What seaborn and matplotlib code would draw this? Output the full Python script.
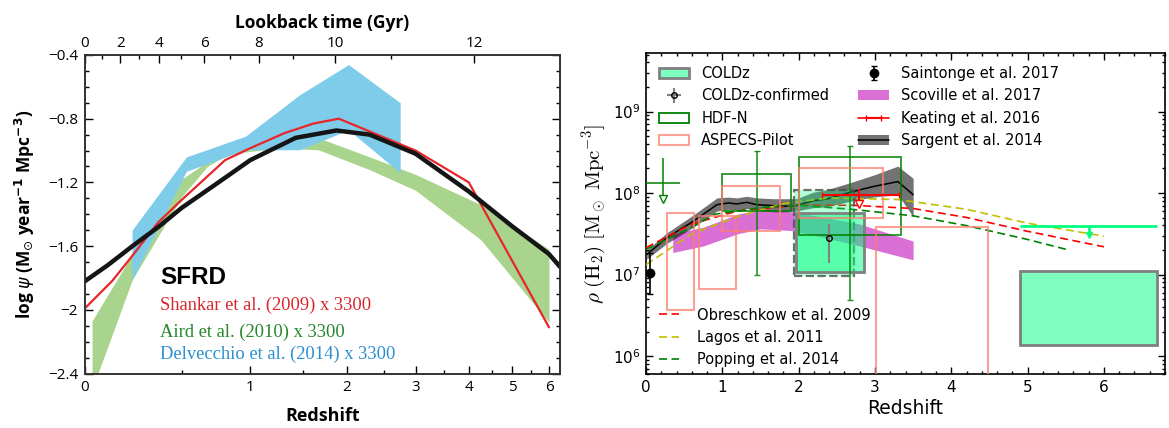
import numpy as np
import matplotlib
matplotlib.use("Agg")
import matplotlib.pyplot as plt
from matplotlib.patches import Rectangle, Patch
from matplotlib.lines import Line2D
from matplotlib.ticker import FixedLocator, FuncFormatter, AutoMinorLocator, LogLocator, NullFormatter
import seaborn as sns

# ---------------- Left panel data (log SFRD) ----------------
md_z = [0.0, 0.1, 0.22, 0.36, 0.5, 0.75, 1.0, 1.42, 1.87, 2.3, 3.0, 4.0, 5.0, 6.0, 6.33]
md_val = [-1.82, -1.72, -1.60, -1.48, -1.36, -1.20, -1.06, -0.92, -0.874, -0.90, -1.02, -1.257, -1.476, -1.65, -1.73]

shankar_z = [0.0, 0.12, 0.22, 0.36, 0.5, 0.8, 1.0, 1.31, 1.61, 1.9, 3.0, 4.0, 6.0]
shankar_val = [-1.99, -1.82, -1.66, -1.45, -1.31, -1.06, -0.985, -0.89, -0.83, -0.80, -1.00, -1.20, -2.11]

aird_z = [0.03, 0.22, 0.5, 0.67, 0.83, 1.27, 1.66, 2.3, 3.0, 4.26, 6.0]
aird_hi = [-2.07, -1.65, -1.18, -1.07, -1.01, -0.975, -0.92, -1.04, -1.15, -1.34, -1.62]
aird_lo = [-2.50, -1.81, -1.29, -1.10, -1.02, -0.985, -0.995, -1.12, -1.25, -1.56, -2.08]

delv_z = [0.218, 0.53, 0.96, 1.46, 2.02, 2.75]
delv_hi = [-1.50, -1.04, -0.91, -0.65, -0.46, -0.70]
delv_lo = [-1.81, -1.13, -0.995, -0.995, -0.87, -1.14]

left_yticks = [-2.4, -2.0, -1.6, -1.2, -0.8, -0.4]
left_xticks = [0, 1, 2, 3, 4, 5, 6]
lookback_major = [0, 2, 4, 6, 8, 10, 12]
lookback_minor = [1, 3, 5, 7, 9, 11]

# ---------------- Right panel data (log10 rho H2) ----------------
sargent_z = [0.01, 0.27, 0.62, 0.93, 1.08, 1.19, 1.32, 1.45, 1.67, 1.84, 1.97, 2.19, 2.37, 2.72, 2.98, 3.30, 3.50]
sargent_log = [7.245, 7.45, 7.653, 7.857, 7.878, 7.866, 7.886, 7.857, 7.845, 7.837, 7.845, 7.906, 7.927, 8.02, 8.08, 8.14, 7.98]
sargent_hi_log = [7.30, 7.51, 7.73, 7.94, 7.95, 7.94, 7.96, 7.94, 7.93, 7.93, 7.93, 8.01, 8.04, 8.14, 8.22, 8.33, 8.18]
sargent_lo_log = [7.19, 7.38, 7.58, 7.78, 7.80, 7.79, 7.81, 7.79, 7.77, 7.77, 7.78, 7.82, 7.83, 7.91, 7.95, 7.98, 7.71]

scov_z = [0.35, 0.75, 1.2, 1.5, 1.9, 2.35, 2.8, 3.5]
scov_hi_log = [7.50, 7.58, 7.74, 7.80, 7.77, 7.70, 7.62, 7.41]
scov_lo_log = [7.27, 7.35, 7.50, 7.56, 7.54, 7.45, 7.35, 7.18]

obres_z = [0.0, 0.6, 1.2, 2.0, 2.7, 3.5, 4.2, 5.0, 6.0]
obres_log = [7.33, 7.62, 7.78, 7.85, 7.85, 7.81, 7.70, 7.53, 7.34]
lagos_z = [0.0, 0.6, 1.2, 1.8, 2.4, 3.3, 4.2, 5.0, 6.0]
lagos_log = [7.12, 7.50, 7.71, 7.87, 7.94, 7.92, 7.80, 7.63, 7.47]
popping_z = [0.0, 0.6, 0.9, 1.5, 2.0, 2.7, 3.5, 4.2, 5.0, 5.5]
popping_log = [7.31, 7.58, 7.74, 7.82, 7.85, 7.80, 7.72, 7.60, 7.43, 7.31]

# boxes: (z_lo, z_hi, log_lo, log_hi)
coldz_z_lo = [1.97, 4.90]
coldz_z_hi = [2.85, 6.70]
coldz_log_lo = [7.03, 6.14]
coldz_log_hi = [7.755, 7.04]
coldz_dash_z = [1.94, 2.72]
coldz_dash_log = [6.98, 8.04]
coldz_lim_z = [4.90, 6.70]
coldz_lim_x = 5.80
coldz_lim_log = [7.60, 7.49]

aspecs_z_lo = [0.27, 0.70, 1.00, 2.01, 3.01]
aspecs_z_hi = [0.63, 1.18, 1.75, 3.10, 4.48]
aspecs_log_lo = [6.56, 6.825, 7.53, 7.69, 5.0]
aspecs_log_hi = [7.76, 7.72, 8.09, 8.31, 7.58]

hdfn_z_lo = [1.00, 2.00]
hdfn_z_hi = [1.895, 3.345]
hdfn_log_lo = [7.775, 7.48]
hdfn_log_hi = [8.23, 8.44]
hdfn_err_z = [1.45, 2.67]
hdfn_err_lo = [7.00, 6.69]
hdfn_err_hi = [8.52, 8.58]
hdfn_lim_z = [0.0, 0.445]
hdfn_lim_x = 0.22
hdfn_lim_log = [8.12, 8.43, 7.93]   # horizontal bar, top, arrow tip

confirmed_z = [2.40]
confirmed_log = [7.45]
confirmed_err_log = [7.14, 7.625]

saint_z = [0.05]
saint_log = [7.02]
saint_err_log = [6.76, 7.26]

keating_z = [2.79]
keating_zrange = [2.30, 3.31]
keating_log = [7.97]
keating_lim_log = [8.05, 7.86]

# ---------------- style ----------------
sns.set_style("ticks")
plt.rcParams.update({
    "font.family": ["DejaVu Sans"],
    "axes.edgecolor": "black", "text.color": "black", "axes.labelcolor": "black",
    "xtick.color": "black", "ytick.color": "black",
    "xtick.direction": "in", "ytick.direction": "in",
})
LFONT = ["Open Sans", "DejaVu Sans"]
DASH = (4.8, 2.7)

fig = plt.figure(figsize=(11.69, 4.28), dpi=100)
axl = fig.add_axes([85 / 1169, 1 - 373.5 / 428, 475 / 1169, 318.5 / 428])
axr = fig.add_axes([646 / 1169, 1 - 374.3 / 428, 519 / 1169, 321 / 428])

# ======================= LEFT PANEL =======================
def fwd(z):
    return np.log10(np.clip(1 + np.asarray(z, float), 1e-9, None))

def inv(u):
    return 10 ** np.asarray(u, float) - 1

axl.set_xscale("function", functions=(fwd, inv))
axl.fill_between(aird_z, aird_lo, aird_hi, color="#A8D48D", lw=0, zorder=1)
axl.fill_between(delv_z, delv_lo, delv_hi, color="#7ECBEA", lw=0, zorder=2)
sns.lineplot(x=shankar_z, y=shankar_val, ax=axl, color="#E8262A", lw=1.6, zorder=3, sort=False)
sns.lineplot(x=md_z, y=md_val, ax=axl, color="#151515", lw=3.2, zorder=4, sort=False)
axl.set_xlim(0, 6.33)
axl.set_ylim(-2.4, -0.4)

axl.xaxis.set_major_locator(FixedLocator(left_xticks))
axl.xaxis.set_minor_locator(FixedLocator([0.5, 1.5, 2.5, 3.5, 4.5, 5.5]))
axl.xaxis.set_major_formatter(FuncFormatter(lambda v, p: f"{v:g}"))
axl.xaxis.set_minor_formatter(NullFormatter())
axl.yaxis.set_major_locator(FixedLocator(left_yticks))
axl.yaxis.set_minor_locator(FixedLocator(np.arange(-2.4, -0.39, 0.1)))
axl.yaxis.set_major_formatter(FuncFormatter(lambda v, p: f"{v:g}".replace("-", "\u2212")))
axl.tick_params(axis="both", which="major", length=5.5, width=1, labelsize=11, right=True, pad=5)
axl.tick_params(axis="both", which="minor", length=3, width=1, right=True)
axl.tick_params(axis="x", which="both", top=False)
for lab in axl.get_xticklabels() + axl.get_yticklabels():
    lab.set_family(LFONT)
for s in axl.spines.values():
    s.set_linewidth(1.2)
    s.set_color("#333333")

axl.set_xlabel("Redshift", fontsize=13, fontweight="bold", family=LFONT, labelpad=8)
axl.set_ylabel(r"log $\psi$ (M$_{\odot}$ year$^{\mathbf{-1}}$ Mpc$^{\mathbf{-3}}$)", fontsize=12.5,
               fontweight="bold", family=LFONT, labelpad=8, math_fontfamily="dejavusans")

# top axis: lookback time (flat LCDM, H0=70, Om=0.3)
zg = np.linspace(0, 30, 30001)
integ = 1.0 / ((1 + zg) * np.sqrt(0.3 * (1 + zg) ** 3 + 0.7))
lbt = 977.8 / 70.0 * np.concatenate([[0], np.cumsum(0.5 * (integ[1:] + integ[:-1]) * np.diff(zg))])

def z_of_t(t):
    return np.interp(t, lbt, zg)

axt = axl.twiny()
axt.set_xscale("function", functions=(fwd, inv))
axt.set_xlim(axl.get_xlim())
axt.xaxis.set_major_locator(FixedLocator(z_of_t(np.array(lookback_major, float))))
axt.set_xticklabels([str(t) for t in lookback_major])
axt.xaxis.set_minor_locator(FixedLocator(z_of_t(np.array(lookback_minor, float))))
axt.xaxis.set_minor_formatter(NullFormatter())
axt.tick_params(axis="x", which="major", length=5.5, width=1, labelsize=11, pad=3)
axt.tick_params(axis="x", which="minor", length=3, width=1)
for lab in axt.get_xticklabels():
    lab.set_family(LFONT)
axt.set_xlabel("Lookback time (Gyr)", fontsize=12.5, fontweight="bold", family=LFONT, labelpad=6)
for s in axt.spines.values():
    s.set_linewidth(1.2)
    s.set_color("#333333")

axl.text(0.158, 0.300, "SFRD", transform=axl.transAxes, fontsize=17.5, fontweight="bold",
         family=["Liberation Sans", "DejaVu Sans"], va="center", ha="left")
axl.text(0.158, 0.213, "Shankar et al. (2009) x 3300", transform=axl.transAxes, fontsize=13.3,
         family=["Liberation Serif"], color="#D9262B", va="center", ha="left")
axl.text(0.158, 0.128, "Aird et al. (2010) x 3300", transform=axl.transAxes, fontsize=13.3,
         family=["Liberation Serif"], color="#23882A", va="center", ha="left")
axl.text(0.158, 0.060, "Delvecchio et al. (2014) x 3300", transform=axl.transAxes, fontsize=13.3,
         family=["Liberation Serif"], color="#2A90D0", va="center", ha="left")

# ======================= RIGHT PANEL =======================
axr.set_yscale("log")

def p10(a):
    return 10 ** np.asarray(a, float)

axr.fill_between(scov_z, p10(scov_lo_log), p10(scov_hi_log), color="orchid", lw=0, zorder=1)
axr.fill_between(sargent_z, p10(sargent_lo_log), p10(sargent_hi_log), color="k", alpha=0.55, lw=0, zorder=2)
sns.lineplot(x=sargent_z, y=p10(sargent_log), ax=axr, color="k", lw=1.1, zorder=3, sort=False)

sns.lineplot(x=obres_z, y=p10(obres_log), ax=axr, color="r", lw=1.2, dashes=False, zorder=4, sort=False).lines[-1].set_dashes(DASH)
sns.lineplot(x=lagos_z, y=p10(lagos_log), ax=axr, color="y", lw=1.2, dashes=False, zorder=4, sort=False).lines[-1].set_dashes(DASH)
sns.lineplot(x=popping_z, y=p10(popping_log), ax=axr, color="g", lw=1.2, dashes=False, zorder=4, sort=False).lines[-1].set_dashes(DASH)

# COLDz boxes
axr.add_patch(Rectangle((coldz_dash_z[0], p10(coldz_dash_log[0])), coldz_dash_z[1] - coldz_dash_z[0],
                        p10(coldz_dash_log[1]) - p10(coldz_dash_log[0]), facecolor=(0, 1, 0.5, 0.3),
                        edgecolor=(0.3, 0.3, 0.3, 0.8), lw=1.6, ls="--", zorder=5))
for zl, zh, ll, lh in zip(coldz_z_lo, coldz_z_hi, coldz_log_lo, coldz_log_hi):
    axr.add_patch(Rectangle((zl, p10(ll)), zh - zl, p10(lh) - p10(ll), facecolor=(0, 1, 0.5, 0.5),
                            edgecolor=(0.5, 0.5, 0.5, 1), lw=2, zorder=5))
axr.errorbar([coldz_lim_x], [p10(coldz_lim_log[0])],
             xerr=[[coldz_lim_x - coldz_lim_z[0]], [coldz_lim_z[1] - coldz_lim_x]],
             yerr=[[p10(coldz_lim_log[0]) - p10(coldz_lim_log[1])], [0]],
             fmt="none", ecolor="springgreen", elinewidth=2, capsize=0, zorder=6)
axr.plot([coldz_lim_x], [p10(coldz_lim_log[1])], marker="v", color="springgreen", ms=5, ls="none", zorder=6)

# HDF-N
for zl, zh, ll, lh in zip(hdfn_z_lo, hdfn_z_hi, hdfn_log_lo, hdfn_log_hi):
    axr.add_patch(Rectangle((zl, p10(ll)), zh - zl, p10(lh) - p10(ll), facecolor="none",
                            edgecolor="g", lw=1.3, zorder=7, alpha=0.85))
hmid = p10((np.array(hdfn_log_lo) + np.array(hdfn_log_hi)) / 2)
axr.errorbar(hdfn_err_z, hmid, yerr=[hmid - p10(hdfn_err_lo), p10(hdfn_err_hi) - hmid],
             fmt="none", ecolor="g", elinewidth=1.2, capsize=2.5, alpha=0.85, zorder=7)
hl_y = p10(hdfn_lim_log[0])
axr.errorbar([hdfn_lim_x], [hl_y], xerr=[[hdfn_lim_x - hdfn_lim_z[0]], [hdfn_lim_z[1] - hdfn_lim_x]],
             yerr=[[hl_y - p10(hdfn_lim_log[2])], [p10(hdfn_lim_log[1]) - hl_y]],
             fmt="none", ecolor="g", elinewidth=1.3, capsize=0, alpha=0.85, zorder=7)
axr.plot([hdfn_lim_x], [p10(hdfn_lim_log[2])], marker="v", mfc="white", mec="g", ms=6, ls="none", zorder=7)

# ASPECS-Pilot
for zl, zh, ll, lh in zip(aspecs_z_lo, aspecs_z_hi, aspecs_log_lo, aspecs_log_hi):
    axr.add_patch(Rectangle((zl, p10(ll)), zh - zl, p10(lh) - p10(ll), facecolor="none",
                            edgecolor="salmon", lw=1.5, alpha=0.75, zorder=8))

# COLDz-confirmed
cy = p10(confirmed_log)
h_conf = axr.errorbar(confirmed_z, cy, xerr=[0], yerr=[cy - p10(confirmed_err_log[0]), p10(confirmed_err_log[1]) - cy],
                      fmt="o", ms=4, mfc="none", mec="k", ecolor="grey", elinewidth=1.5, capsize=0, zorder=9)

# Saintonge
sy = p10(saint_log)
h_saint = axr.errorbar(saint_z, sy, yerr=[sy - p10(saint_err_log[0]), p10(saint_err_log[1]) - sy],
                       fmt="o", color="k", ms=6, capsize=2.5, elinewidth=1.2, zorder=10)

# Keating (single point drawn with a line style so the legend shows a full line)
ky = p10(keating_log)
h_keat = axr.errorbar(keating_z, ky, xerr=[[keating_z[0] - keating_zrange[0]], [keating_zrange[1] - keating_z[0]]],
                      fmt="-", color="r", elinewidth=1.5, lw=1.2, capsize=2.5, zorder=10)
axr.vlines(keating_z, p10(keating_lim_log[1]), p10(keating_lim_log[0]), color="r", lw=1.5, zorder=10)
axr.plot(keating_z, [p10(keating_lim_log[1])], marker="v", mfc="white", mec="r", ms=6, ls="none", zorder=10)

axr.set_xlim(0, 6.8)
axr.set_ylim(p10(5.776), p10(9.714))
axr.xaxis.set_major_locator(FixedLocator([0, 1, 2, 3, 4, 5, 6]))
axr.xaxis.set_minor_locator(AutoMinorLocator(5))
axr.yaxis.set_major_locator(LogLocator(base=10, numticks=12))
axr.yaxis.set_minor_locator(LogLocator(base=10, subs=np.arange(2, 10), numticks=12))
axr.yaxis.set_minor_formatter(NullFormatter())
axr.tick_params(axis="both", which="major", length=5, width=1, labelsize=11, top=True, right=True, pad=4)
axr.tick_params(axis="both", which="minor", length=2.5, width=1, top=True, right=True)
for s in axr.spines.values():
    s.set_linewidth(1.2)
axr.set_xlabel("Redshift", fontsize=13.5, labelpad=3)
axr.set_ylabel(r"$\rho\ ({\rm H_2})\ [{\rm M_\odot\ Mpc^{-3}}]$", fontsize=15, math_fontfamily="cm", labelpad=3)

# legends
h_coldz = Patch(facecolor=(0, 1, 0.5, 0.5), edgecolor=(0.5, 0.5, 0.5), lw=2)
h_hdfn = Patch(facecolor="none", edgecolor="g", lw=1.3)
h_aspecs = Patch(facecolor="none", edgecolor="salmon", lw=1.5, alpha=0.75)
h_scov = Patch(facecolor="orchid", edgecolor="none")
h_sarg = (Patch(facecolor="k", alpha=0.55, edgecolor="none"), Line2D([], [], color="k", lw=1.1))

leg1 = axr.legend([h_coldz, h_conf, h_hdfn, h_aspecs, h_saint, h_scov, h_keat, h_sarg],
                  ["COLDz", "COLDz-confirmed", "HDF-N", "ASPECS-Pilot",
                   "Saintonge et al. 2017", "Scoville et al. 2017", "Keating et al. 2016", "Sargent et al. 2014"],
                  ncol=2, loc="upper left", bbox_to_anchor=(0.0135, 0.978), frameon=False, fontsize=10.5,
                  handlelength=2.1, handletextpad=0.8, columnspacing=2.0, labelspacing=0.5, borderaxespad=0)
axr.add_artist(leg1)
h_o = Line2D([], [], color="r", lw=1.2, dashes=DASH)
h_l = Line2D([], [], color="y", lw=1.2, dashes=DASH)
h_p = Line2D([], [], color="g", lw=1.2, dashes=DASH)
axr.legend([h_o, h_l, h_p], ["Obreschkow et al. 2009", "Lagos et al. 2011", "Popping et al. 2014"],
           loc="lower left", bbox_to_anchor=(0.0135, 0.004), frameon=False, fontsize=10.5,
           handlelength=1.35, handletextpad=1.25, labelspacing=0.5, borderaxespad=0)

fig.savefig("out.png", dpi=100)
